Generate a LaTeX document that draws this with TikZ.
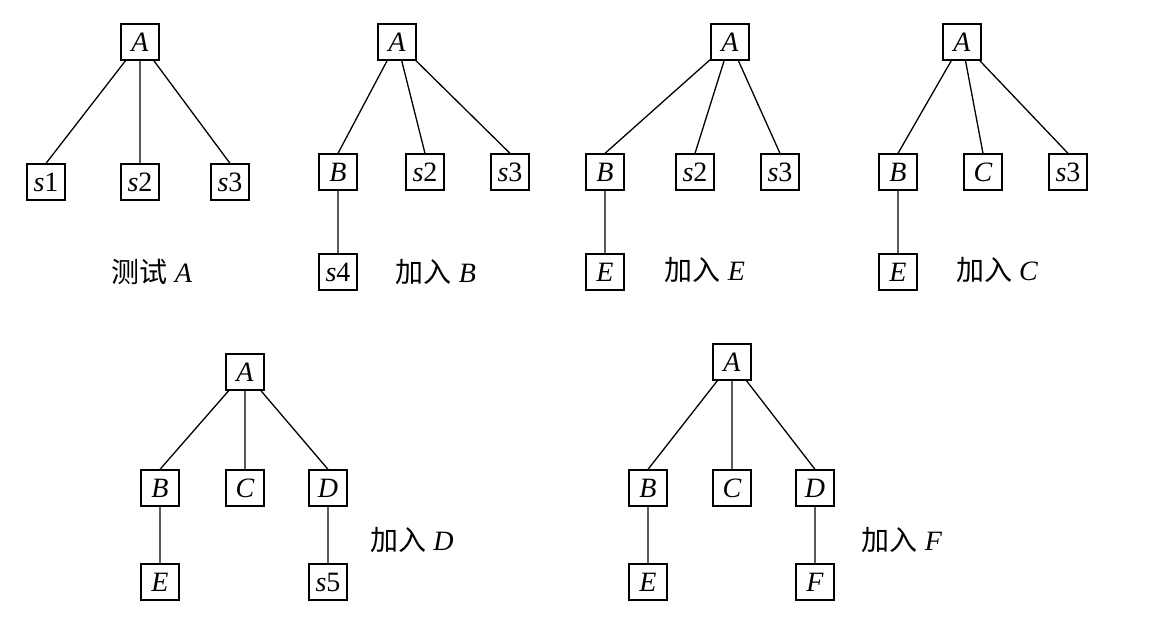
\documentclass[tikz,border=0pt]{standalone}
\usepackage{fontspec}
\setmainfont{Liberation Serif}
\newfontfamily\cjk{Noto Sans CJK SC}
\begin{document}
\begin{tikzpicture}[x=1pt,y=-1pt,
  bx/.style={draw,line width=1.3pt,minimum width=38pt,minimum height=36pt,inner sep=2pt,font=\fontsize{28}{28}\selectfont},
  lb/.style={font=\fontsize{28}{28}\selectfont},
  every path/.style={line width=1.3pt}]
\useasboundingbox (0,0) rectangle (1149,636);
% tree 1
\node[bx] (a1) at (140,42) {\textit{A}};
\node[bx] (a1s1) at (46,182) {\textit{s}1};
\node[bx] (a1s2) at (140,182) {\textit{s}2};
\node[bx] (a1s3) at (230,182) {\textit{s}3};
\node[lb] (l1) at (152,272) {{\cjk 测试} \textit{A}};
\draw (a1) -- (a1s1.north) (a1) -- (a1s2) (a1) -- (a1s3.north);
% tree 2
\node[bx] (a2) at (397,42) {\textit{A}};
\node[bx] (b2) at (338,172) {\textit{B}};
\node[bx] (a2s2) at (425,172) {\textit{s}2};
\node[bx] (a2s3) at (510,172) {\textit{s}3};
\node[bx] (a2s4) at (338,272) {\textit{s}4};
\node[lb] (l2) at (436,272) {{\cjk 加入} \textit{B}};
\draw (a2) -- (b2.north) (a2) -- (a2s2.north) (a2) -- (a2s3.north) (b2) -- (a2s4);
% tree 3
\node[bx] (a3) at (730,42) {\textit{A}};
\node[bx] (b3) at (605,172) {\textit{B}};
\node[bx] (a3s2) at (695,172) {\textit{s}2};
\node[bx] (a3s3) at (780,172) {\textit{s}3};
\node[bx] (e3) at (605,272) {\textit{E}};
\node[lb] (l3) at (705,270) {{\cjk 加入} \textit{E}};
\draw (a3) -- (b3.north) (a3) -- (a3s2.north) (a3) -- (a3s3.north) (b3) -- (e3);
% tree 4
\node[bx] (a4) at (962,42) {\textit{A}};
\node[bx] (b4) at (898,172) {\textit{B}};
\node[bx] (c4) at (983,172) {\textit{C}};
\node[bx] (a4s3) at (1068,172) {\textit{s}3};
\node[bx] (e4) at (898,272) {\textit{E}};
\node[lb] (l4) at (997,270) {{\cjk 加入} \textit{C}};
\draw (a4) -- (b4.north) (a4) -- (c4.north) (a4) -- (a4s3.north) (b4) -- (e4);
% tree 5
\node[bx] (a5) at (245,372) {\textit{A}};
\node[bx] (b5) at (160,488) {\textit{B}};
\node[bx] (c5) at (245,488) {\textit{C}};
\node[bx] (d5) at (328,488) {\textit{D}};
\node[bx] (e5) at (160,582) {\textit{E}};
\node[bx] (s5) at (328,582) {\textit{s}5};
\node[lb] (l5) at (412,540) {{\cjk 加入} \textit{D}};
\draw (a5) -- (b5.north) (a5) -- (c5) (a5) -- (d5.north) (b5) -- (e5) (d5) -- (s5);
% tree 6
\node[bx] (a6) at (732,362) {\textit{A}};
\node[bx] (b6) at (648,488) {\textit{B}};
\node[bx] (c6) at (732,488) {\textit{C}};
\node[bx] (d6) at (815,488) {\textit{D}};
\node[bx] (e6) at (648,582) {\textit{E}};
\node[bx] (f6) at (815,582) {\textit{F}};
\node[lb] (l6) at (902,540) {{\cjk 加入} \textit{F}};
\draw (a6) -- (b6.north) (a6) -- (c6) (a6) -- (d6.north) (b6) -- (e6) (d6) -- (f6);
\end{tikzpicture}
\end{document}
